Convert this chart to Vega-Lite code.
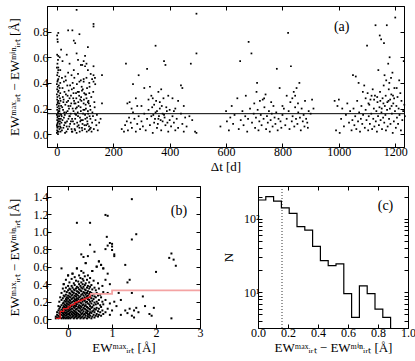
{
"$schema": "https://vega.github.io/schema/vega-lite/v6.json",
"padding": {"left": 7, "top": 5, "right": 2, "bottom": 2},
"datasets": {
"one": [{}],
"a": [
{"t":0,"d":0.01},{"t":1,"d":0.03},{"t":2,"d":0.05},{"t":0,"d":0.07},{"t":3,"d":0.09},{"t":1,"d":0.11},{"t":2,"d":0.13},{"t":0,"d":0.15},{"t":4,"d":0.17},{"t":1,"d":0.19},{"t":2,"d":0.21},{"t":0,"d":0.23},{"t":3,"d":0.25},{"t":1,"d":0.27},{"t":2,"d":0.29},{"t":0,"d":0.31},{"t":4,"d":0.33},{"t":1,"d":0.35},{"t":3,"d":0.37},{"t":0,"d":0.39},{"t":2,"d":0.41},{"t":5,"d":0.43},{"t":1,"d":0.46},{"t":3,"d":0.48},{"t":0,"d":0.52},{"t":2,"d":0.55},{"t":4,"d":0.58},{"t":1,"d":0.62},{"t":3,"d":0.72},{"t":2,"d":0.74},{"t":5,"d":0.79},{"t":1,"d":0.77},
{"t":6,"d":0.02},{"t":7,"d":0.06},{"t":5,"d":0.1},{"t":8,"d":0.14},{"t":6,"d":0.18},{"t":7,"d":0.22},{"t":5,"d":0.26},{"t":8,"d":0.3},{"t":6,"d":0.34},{"t":7,"d":0.38},{"t":9,"d":0.04},{"t":10,"d":0.08},{"t":9,"d":0.12},{"t":11,"d":0.16},{"t":10,"d":0.2},{"t":9,"d":0.24},{"t":11,"d":0.28},{"t":12,"d":0.32},{"t":10,"d":0.36},{"t":12,"d":0.4},{"t":4,"d":0.0},{"t":3,"d":0.02},{"t":6,"d":0.12},{"t":2,"d":0.08},{"t":8,"d":0.2},{"t":4,"d":0.24},{"t":5,"d":0.16},{"t":3,"d":0.14},{"t":7,"d":0.1},{"t":1,"d":0.06},{"t":9,"d":0.18},{"t":11,"d":0.1},{"t":12,"d":0.06},{"t":13,"d":0.02},{"t":14,"d":0.12},{"t":15,"d":0.22},{"t":13,"d":0.26},{"t":14,"d":0.05},{"t":15,"d":0.15},{"t":16,"d":0.09},
{"t":18,"d":0.03},{"t":20,"d":0.11},{"t":22,"d":0.19},{"t":24,"d":0.27},{"t":26,"d":0.07},{"t":28,"d":0.15},{"t":30,"d":0.23},{"t":32,"d":0.31},{"t":34,"d":0.02},{"t":36,"d":0.1},{"t":38,"d":0.18},{"t":40,"d":0.26},{"t":42,"d":0.34},{"t":44,"d":0.06},{"t":46,"d":0.14},{"t":48,"d":0.22},{"t":50,"d":0.3},{"t":52,"d":0.04},{"t":54,"d":0.12},{"t":56,"d":0.2},{"t":58,"d":0.28},{"t":60,"d":0.36},{"t":62,"d":0.08},{"t":64,"d":0.16},{"t":66,"d":0.24},{"t":68,"d":0.32},{"t":70,"d":0.01},{"t":72,"d":0.09},{"t":74,"d":0.17},{"t":76,"d":0.25},{"t":78,"d":0.33},{"t":80,"d":0.05},{"t":82,"d":0.13},{"t":84,"d":0.21},{"t":86,"d":0.29},{"t":88,"d":0.37},{"t":90,"d":0.03},{"t":92,"d":0.11},{"t":94,"d":0.19},{"t":96,"d":0.27},{"t":98,"d":0.07},{"t":100,"d":0.15},{"t":102,"d":0.23},{"t":104,"d":0.31},{"t":106,"d":0.02},{"t":108,"d":0.1},{"t":110,"d":0.18},{"t":112,"d":0.26},{"t":114,"d":0.06},{"t":116,"d":0.14},{"t":118,"d":0.22},{"t":120,"d":0.05},
{"t":19,"d":0.21},{"t":21,"d":0.29},{"t":23,"d":0.05},{"t":25,"d":0.13},{"t":27,"d":0.33},{"t":29,"d":0.01},{"t":31,"d":0.09},{"t":33,"d":0.17},{"t":35,"d":0.25},{"t":37,"d":0.38},{"t":39,"d":0.04},{"t":41,"d":0.12},{"t":43,"d":0.2},{"t":45,"d":0.28},{"t":47,"d":0.08},{"t":49,"d":0.16},{"t":51,"d":0.24},{"t":53,"d":0.35},{"t":55,"d":0.02},{"t":57,"d":0.1},{"t":59,"d":0.18},{"t":61,"d":0.26},{"t":63,"d":0.04},{"t":65,"d":0.12},{"t":67,"d":0.2},{"t":69,"d":0.28},{"t":71,"d":0.39},{"t":73,"d":0.06},{"t":75,"d":0.14},{"t":77,"d":0.22},{"t":79,"d":0.3},{"t":81,"d":0.02},{"t":83,"d":0.1},{"t":85,"d":0.18},{"t":87,"d":0.26},{"t":89,"d":0.34},{"t":91,"d":0.08},{"t":93,"d":0.16},{"t":95,"d":0.24},{"t":97,"d":0.32},{"t":99,"d":0.04},{"t":101,"d":0.12},{"t":103,"d":0.2},{"t":105,"d":0.28},{"t":107,"d":0.36},{"t":109,"d":0.08},{"t":111,"d":0.16},{"t":113,"d":0.24},{"t":115,"d":0.32},{"t":117,"d":0.04},{"t":119,"d":0.12},
{"t":17,"d":0.14},{"t":20,"d":0.36},{"t":23,"d":0.25},{"t":26,"d":0.17},{"t":29,"d":0.09},{"t":32,"d":0.42},{"t":35,"d":0.06},{"t":38,"d":0.3},{"t":41,"d":0.22},{"t":44,"d":0.14},{"t":47,"d":0.38},{"t":50,"d":0.1},{"t":53,"d":0.02},{"t":56,"d":0.4},{"t":59,"d":0.32},{"t":62,"d":0.24},{"t":65,"d":0.03},{"t":68,"d":0.15},{"t":71,"d":0.21},{"t":74,"d":0.33},{"t":77,"d":0.07},{"t":80,"d":0.41},{"t":83,"d":0.27},{"t":86,"d":0.11},{"t":89,"d":0.05},{"t":92,"d":0.35},{"t":95,"d":0.43},{"t":98,"d":0.19},{"t":101,"d":0.31},{"t":104,"d":0.07},{"t":107,"d":0.13},{"t":110,"d":0.25},{"t":113,"d":0.03},{"t":116,"d":0.37},{"t":119,"d":0.19},{"t":122,"d":0.29},{"t":125,"d":0.09},{"t":128,"d":0.14},{"t":131,"d":0.04},{"t":134,"d":0.21},{"t":137,"d":0.11},{"t":140,"d":0.07},{"t":123,"d":0.02},{"t":126,"d":0.17},{"t":129,"d":0.33},{"t":133,"d":0.25},{"t":136,"d":0.39},{"t":142,"d":0.15},{"t":145,"d":0.03},{"t":150,"d":0.09},{"t":155,"d":0.12},{"t":160,"d":0.24},
{"t":3,"d":0.42},{"t":8,"d":0.45},{"t":12,"d":0.5},{"t":18,"d":0.44},{"t":25,"d":0.41},{"t":30,"d":0.45},{"t":40,"d":0.48},{"t":52,"d":0.46},{"t":62,"d":0.44},{"t":75,"d":0.47},{"t":85,"d":0.42},{"t":95,"d":0.41},{"t":105,"d":0.44},{"t":115,"d":0.4},{"t":125,"d":0.43},{"t":130,"d":0.41},{"t":135,"d":0.44},{"t":130,"d":0.46},{"t":120,"d":0.47},{"t":160,"d":0.46},{"t":110,"d":0.5},{"t":100,"d":0.53},{"t":90,"d":0.54},{"t":85,"d":0.54},{"t":95,"d":0.57},{"t":60,"d":0.5},{"t":130,"d":0.53},{"t":5,"d":0.5},{"t":5,"d":0.52},{"t":5,"d":0.61},{"t":10,"d":0.6},{"t":20,"d":0.57},{"t":70,"d":0.63},{"t":110,"d":0.68},{"t":60,"d":0.73},{"t":65,"d":0.71},{"t":80,"d":0.78},{"t":40,"d":0.81},{"t":55,"d":0.81},{"t":70,"d":0.97},{"t":130,"d":0.86},{"t":130,"d":0.84},{"t":45,"d":0.55},{"t":75,"d":0.58},{"t":100,"d":0.61},{"t":15,"d":0.66},{"t":35,"d":0.62},{"t":105,"d":0.55},
{"t":230,"d":0.04},{"t":238,"d":0.02},{"t":242,"d":0.07},{"t":248,"d":0.1},{"t":252,"d":0.03},{"t":256,"d":0.13},{"t":262,"d":0.09},{"t":266,"d":0.05},{"t":270,"d":0.17},{"t":275,"d":0.12},{"t":280,"d":0.02},{"t":285,"d":0.08},{"t":290,"d":0.14},{"t":295,"d":0.04},{"t":300,"d":0.1},{"t":305,"d":0.06},{"t":310,"d":0.16},{"t":315,"d":0.03},{"t":320,"d":0.12},{"t":325,"d":0.19},{"t":330,"d":0.07},{"t":335,"d":0.14},{"t":340,"d":0.01},{"t":345,"d":0.09},{"t":350,"d":0.17},{"t":355,"d":0.05},{"t":360,"d":0.12},{"t":365,"d":0.2},{"t":370,"d":0.03},{"t":375,"d":0.1},{"t":380,"d":0.15},{"t":385,"d":0.07},{"t":390,"d":0.18},{"t":395,"d":0.02},{"t":400,"d":0.11},{"t":405,"d":0.06},{"t":410,"d":0.14},{"t":415,"d":0.09},{"t":420,"d":0.03},{"t":425,"d":0.12},{"t":430,"d":0.05},{"t":440,"d":0.16},{"t":445,"d":0.08},{"t":450,"d":0.02},{"t":455,"d":0.13},{"t":460,"d":0.06},{"t":470,"d":0.14},{"t":480,"d":0.11},{"t":490,"d":0.02},{"t":495,"d":0.01},
{"t":245,"d":0.55},{"t":250,"d":0.24},{"t":258,"d":0.25},{"t":265,"d":0.2},{"t":270,"d":0.39},{"t":280,"d":0.28},{"t":285,"d":0.22},{"t":290,"d":0.46},{"t":300,"d":0.22},{"t":310,"d":0.36},{"t":320,"d":0.51},{"t":325,"d":0.27},{"t":330,"d":0.37},{"t":335,"d":0.3},{"t":340,"d":0.28},{"t":345,"d":0.23},{"t":350,"d":0.69},{"t":352,"d":0.26},{"t":360,"d":0.33},{"t":365,"d":0.25},{"t":370,"d":0.35},{"t":372,"d":0.22},{"t":378,"d":0.28},{"t":380,"d":0.57},{"t":385,"d":0.54},{"t":388,"d":0.21},{"t":395,"d":0.3},{"t":400,"d":0.19},{"t":410,"d":0.28},{"t":415,"d":0.18},{"t":420,"d":0.2},{"t":430,"d":0.26},{"t":440,"d":0.38},{"t":445,"d":0.36},{"t":450,"d":0.22},{"t":475,"d":0.55},{"t":495,"d":0.94},{"t":495,"d":0.63},{"t":355,"d":0.18},{"t":362,"d":0.14},{"t":368,"d":0.11},{"t":375,"d":0.16},{"t":382,"d":0.13},{"t":392,"d":0.09},{"t":342,"d":0.15},{"t":338,"d":0.21},{"t":348,"d":0.12},{"t":358,"d":0.08},
{"t":580,"d":0.06},{"t":600,"d":0.18},{"t":603,"d":0.1},{"t":610,"d":0.03},{"t":615,"d":0.13},{"t":620,"d":0.22},{"t":625,"d":0.08},{"t":630,"d":0.15},{"t":640,"d":0.28},{"t":645,"d":0.04},{"t":650,"d":0.57},{"t":652,"d":0.11},{"t":658,"d":0.18},{"t":662,"d":0.07},{"t":668,"d":0.14},{"t":670,"d":0.3},{"t":675,"d":0.02},{"t":678,"d":0.12},{"t":680,"d":0.72},{"t":685,"d":0.2},{"t":690,"d":0.63},{"t":692,"d":0.09},{"t":698,"d":0.16},{"t":700,"d":0.24},{"t":703,"d":0.05},{"t":706,"d":0.13},{"t":710,"d":0.4},{"t":712,"d":0.19},{"t":715,"d":0.03},{"t":718,"d":0.1},{"t":720,"d":0.26},{"t":723,"d":0.15},{"t":726,"d":0.07},{"t":730,"d":0.27},{"t":733,"d":0.12},{"t":736,"d":0.21},{"t":740,"d":0.31},{"t":742,"d":0.04},{"t":745,"d":0.14},{"t":748,"d":0.09},{"t":752,"d":0.18},{"t":755,"d":0.02},{"t":758,"d":0.11},{"t":762,"d":0.16},{"t":765,"d":0.06},{"t":768,"d":0.22},{"t":772,"d":0.13},{"t":775,"d":0.08},{"t":778,"d":0.17},{"t":780,"d":0.51},{"t":783,"d":0.03},{"t":786,"d":0.12},{"t":790,"d":0.36},{"t":793,"d":0.1},{"t":796,"d":0.05},{"t":800,"d":0.15},{"t":805,"d":0.2},{"t":810,"d":0.07},{"t":815,"d":0.12},{"t":820,"d":0.79},{"t":822,"d":0.18},{"t":825,"d":0.04},{"t":828,"d":0.25},{"t":830,"d":0.53},{"t":833,"d":0.1},{"t":836,"d":0.14},{"t":840,"d":0.33},{"t":842,"d":0.06},{"t":845,"d":0.21},{"t":848,"d":0.12},{"t":850,"d":0.36},{"t":853,"d":0.08},{"t":856,"d":0.17},{"t":860,"d":0.4},{"t":862,"d":0.13},{"t":865,"d":0.03},{"t":868,"d":0.2},{"t":872,"d":0.1},{"t":875,"d":0.15},{"t":878,"d":0.06},{"t":880,"d":0.26},{"t":884,"d":0.12},{"t":888,"d":0.09},{"t":890,"d":0.05},{"t":893,"d":0.18},{"t":900,"d":0.16},{"t":905,"d":0.27},{"t":910,"d":0.2},{"t":835,"d":0.28},{"t":845,"d":0.3},{"t":855,"d":0.24},{"t":708,"d":0.33},{"t":735,"d":0.28},{"t":760,"d":0.25},{"t":800,"d":0.22},{"t":815,"d":0.3},
{"t":985,"d":0.26},{"t":990,"d":0.03},{"t":995,"d":0.22},{"t":1000,"d":0.27},{"t":1003,"d":0.01},{"t":1008,"d":0.12},{"t":1012,"d":0.2},{"t":1018,"d":0.06},{"t":1025,"d":0.15},{"t":1030,"d":0.24},{"t":1036,"d":0.09},{"t":1040,"d":0.18},{"t":1045,"d":0.03},{"t":1048,"d":0.11},{"t":1050,"d":0.46},{"t":1052,"d":0.2},{"t":1055,"d":0.07},{"t":1058,"d":0.14},{"t":1060,"d":0.45},{"t":1062,"d":0.04},{"t":1065,"d":0.26},{"t":1068,"d":0.1},{"t":1070,"d":0.4},{"t":1072,"d":0.17},{"t":1075,"d":0.02},{"t":1078,"d":0.12},{"t":1080,"d":0.22},{"t":1083,"d":0.08},{"t":1086,"d":0.15},{"t":1090,"d":0.38},{"t":1092,"d":0.05},{"t":1095,"d":0.19},{"t":1098,"d":0.11},{"t":1100,"d":0.69},{"t":1102,"d":0.32},{"t":1104,"d":0.03},{"t":1106,"d":0.14},{"t":1108,"d":0.23},{"t":1110,"d":0.08},{"t":1112,"d":0.27},{"t":1115,"d":0.16},{"t":1118,"d":0.04},{"t":1120,"d":0.35},{"t":1122,"d":0.12},{"t":1124,"d":0.2},{"t":1126,"d":0.06},{"t":1128,"d":0.3},{"t":1130,"d":0.85},{"t":1131,"d":0.1},{"t":1133,"d":0.18},{"t":1135,"d":0.02},{"t":1137,"d":0.25},{"t":1139,"d":0.14},{"t":1140,"d":0.5},{"t":1142,"d":0.07},{"t":1144,"d":0.21},{"t":1145,"d":0.77},{"t":1146,"d":0.33},{"t":1148,"d":0.11},{"t":1150,"d":0.74},{"t":1151,"d":0.17},{"t":1153,"d":0.04},{"t":1155,"d":0.28},{"t":1157,"d":0.13},{"t":1159,"d":0.38},{"t":1160,"d":0.71},{"t":1161,"d":0.09},{"t":1163,"d":0.22},{"t":1165,"d":0.15},{"t":1167,"d":0.03},{"t":1168,"d":0.42},{"t":1170,"d":0.85},{"t":1171,"d":0.19},{"t":1173,"d":0.06},{"t":1175,"d":0.55},{"t":1176,"d":0.26},{"t":1178,"d":0.12},{"t":1180,"d":0.6},{"t":1181,"d":0.2},{"t":1183,"d":0.08},{"t":1185,"d":0.44},{"t":1186,"d":0.31},{"t":1188,"d":0.16},{"t":1190,"d":0.48},{"t":1191,"d":0.01},{"t":1193,"d":0.24},{"t":1195,"d":0.1},{"t":1197,"d":0.36},{"t":1199,"d":0.18},{"t":1200,"d":0.91},{"t":1202,"d":0.05},{"t":1204,"d":0.22},{"t":1206,"d":0.13},{"t":1208,"d":0.29},{"t":1210,"d":0.08},{"t":1212,"d":0.2},{"t":1215,"d":0.15},{"t":1218,"d":0.32},{"t":1220,"d":0.03},{"t":1222,"d":0.26},{"t":1225,"d":0.11},{"t":1228,"d":0.18},{"t":1230,"d":0.57},{"t":1232,"d":0.23},{"t":1234,"d":0.14},{"t":1166,"d":0.3},{"t":1172,"d":0.25},{"t":1177,"d":0.35},{"t":1182,"d":0.27},{"t":1187,"d":0.22},{"t":1192,"d":0.3},{"t":1158,"d":0.24},{"t":1152,"d":0.2},{"t":1147,"d":0.26},{"t":1136,"d":0.29},{"t":1125,"d":0.27},{"t":1116,"d":0.3},{"t":1105,"d":0.24},{"t":1095,"d":0.28},{"t":1085,"d":0.33},{"t":1162,"d":0.46},{"t":1179,"d":0.4},{"t":1196,"d":0.28},{"t":1205,"d":0.36},{"t":1214,"d":0.42}
],
"b": [
{"x":-0.28,"y":0.01},{"x":-0.28,"y":0.03},{"x":-0.25,"y":0.02},{"x":-0.25,"y":0.05},{"x":-0.25,"y":0.08},{"x":-0.22,"y":0.01},{"x":-0.22,"y":0.04},{"x":-0.22,"y":0.1},{"x":-0.22,"y":0.15},{"x":-0.2,"y":0.03},{"x":-0.2,"y":0.07},{"x":-0.2,"y":0.12},{"x":-0.2,"y":0.2},{"x":-0.18,"y":0.02},{"x":-0.18,"y":0.06},{"x":-0.18,"y":0.09},{"x":-0.18,"y":0.14},{"x":-0.18,"y":0.25},
{"x":-0.15,"y":0.01},{"x":-0.15,"y":0.05},{"x":-0.15,"y":0.08},{"x":-0.15,"y":0.11},{"x":-0.15,"y":0.16},{"x":-0.15,"y":0.22},{"x":-0.15,"y":0.3},{"x":-0.12,"y":0.02},{"x":-0.12,"y":0.04},{"x":-0.12,"y":0.07},{"x":-0.12,"y":0.1},{"x":-0.12,"y":0.13},{"x":-0.12,"y":0.18},{"x":-0.12,"y":0.24},{"x":-0.12,"y":0.35},
{"x":-0.1,"y":0.01},{"x":-0.1,"y":0.03},{"x":-0.1,"y":0.06},{"x":-0.1,"y":0.09},{"x":-0.1,"y":0.12},{"x":-0.1,"y":0.15},{"x":-0.1,"y":0.19},{"x":-0.1,"y":0.27},{"x":-0.1,"y":0.4},{"x":-0.08,"y":0.02},{"x":-0.08,"y":0.05},{"x":-0.08,"y":0.08},{"x":-0.08,"y":0.11},{"x":-0.08,"y":0.14},{"x":-0.08,"y":0.17},{"x":-0.08,"y":0.21},{"x":-0.08,"y":0.26},{"x":-0.08,"y":0.32},
{"x":-0.05,"y":0.01},{"x":-0.05,"y":0.04},{"x":-0.05,"y":0.07},{"x":-0.05,"y":0.1},{"x":-0.05,"y":0.13},{"x":-0.05,"y":0.16},{"x":-0.05,"y":0.2},{"x":-0.05,"y":0.23},{"x":-0.05,"y":0.28},{"x":-0.05,"y":0.36},{"x":-0.05,"y":0.45},{"x":-0.03,"y":0.02},{"x":-0.03,"y":0.05},{"x":-0.03,"y":0.08},{"x":-0.03,"y":0.12},{"x":-0.03,"y":0.15},{"x":-0.03,"y":0.18},{"x":-0.03,"y":0.22},{"x":-0.03,"y":0.25},{"x":-0.03,"y":0.31},
{"x":0.0,"y":0.01},{"x":0.0,"y":0.03},{"x":0.0,"y":0.06},{"x":0.0,"y":0.09},{"x":0.0,"y":0.11},{"x":0.0,"y":0.14},{"x":0.0,"y":0.17},{"x":0.0,"y":0.2},{"x":0.0,"y":0.24},{"x":0.0,"y":0.27},{"x":0.0,"y":0.33},{"x":0.0,"y":0.38},{"x":0.0,"y":0.5},
{"x":0.03,"y":0.02},{"x":0.03,"y":0.05},{"x":0.03,"y":0.07},{"x":0.03,"y":0.1},{"x":0.03,"y":0.13},{"x":0.03,"y":0.16},{"x":0.03,"y":0.19},{"x":0.03,"y":0.22},{"x":0.03,"y":0.26},{"x":0.03,"y":0.3},{"x":0.03,"y":0.35},{"x":0.03,"y":0.42},
{"x":0.05,"y":0.01},{"x":0.05,"y":0.04},{"x":0.05,"y":0.08},{"x":0.05,"y":0.11},{"x":0.05,"y":0.14},{"x":0.05,"y":0.18},{"x":0.05,"y":0.21},{"x":0.05,"y":0.25},{"x":0.05,"y":0.29},{"x":0.05,"y":0.34},
{"x":0.08,"y":0.02},{"x":0.08,"y":0.06},{"x":0.08,"y":0.09},{"x":0.08,"y":0.12},{"x":0.08,"y":0.15},{"x":0.08,"y":0.19},{"x":0.08,"y":0.23},{"x":0.08,"y":0.27},{"x":0.08,"y":0.32},{"x":0.08,"y":0.38},{"x":0.08,"y":0.46},
{"x":0.1,"y":0.03},{"x":0.1,"y":0.05},{"x":0.1,"y":0.08},{"x":0.1,"y":0.12},{"x":0.1,"y":0.16},{"x":0.1,"y":0.2},{"x":0.1,"y":0.24},{"x":0.1,"y":0.28},{"x":0.1,"y":0.31},{"x":0.1,"y":0.36},{"x":0.1,"y":0.52},
{"x":0.13,"y":0.01},{"x":0.13,"y":0.04},{"x":0.13,"y":0.07},{"x":0.13,"y":0.1},{"x":0.13,"y":0.14},{"x":0.13,"y":0.17},{"x":0.13,"y":0.21},{"x":0.13,"y":0.25},{"x":0.13,"y":0.3},{"x":0.13,"y":0.34},{"x":0.13,"y":0.41},
{"x":0.15,"y":0.02},{"x":0.15,"y":0.06},{"x":0.15,"y":0.09},{"x":0.15,"y":0.13},{"x":0.15,"y":0.16},{"x":0.15,"y":0.2},{"x":0.15,"y":0.23},{"x":0.15,"y":0.27},{"x":0.15,"y":0.33},{"x":0.15,"y":0.39},{"x":0.15,"y":0.48},
{"x":0.18,"y":0.03},{"x":0.18,"y":0.05},{"x":0.18,"y":0.08},{"x":0.18,"y":0.11},{"x":0.18,"y":0.15},{"x":0.18,"y":0.18},{"x":0.18,"y":0.22},{"x":0.18,"y":0.26},{"x":0.18,"y":0.29},{"x":0.18,"y":0.35},{"x":0.18,"y":0.44},
{"x":0.2,"y":0.01},{"x":0.2,"y":0.04},{"x":0.2,"y":0.07},{"x":0.2,"y":0.12},{"x":0.2,"y":0.17},{"x":0.2,"y":0.21},{"x":0.2,"y":0.24},{"x":0.2,"y":0.28},{"x":0.2,"y":0.32},{"x":0.2,"y":0.37},{"x":0.2,"y":0.58},
{"x":0.23,"y":0.02},{"x":0.23,"y":0.06},{"x":0.23,"y":0.1},{"x":0.23,"y":0.14},{"x":0.23,"y":0.19},{"x":0.23,"y":0.23},{"x":0.23,"y":0.27},{"x":0.23,"y":0.31},{"x":0.23,"y":0.36},{"x":0.23,"y":0.43},
{"x":0.25,"y":0.03},{"x":0.25,"y":0.05},{"x":0.25,"y":0.09},{"x":0.25,"y":0.13},{"x":0.25,"y":0.16},{"x":0.25,"y":0.2},{"x":0.25,"y":0.25},{"x":0.25,"y":0.3},{"x":0.25,"y":0.34},{"x":0.25,"y":0.4},{"x":0.25,"y":0.5},
{"x":0.28,"y":0.01},{"x":0.28,"y":0.04},{"x":0.28,"y":0.08},{"x":0.28,"y":0.12},{"x":0.28,"y":0.15},{"x":0.28,"y":0.19},{"x":0.28,"y":0.22},{"x":0.28,"y":0.26},{"x":0.28,"y":0.33},{"x":0.28,"y":0.38},{"x":0.28,"y":0.47},
{"x":0.3,"y":0.02},{"x":0.3,"y":0.06},{"x":0.3,"y":0.1},{"x":0.3,"y":0.14},{"x":0.3,"y":0.18},{"x":0.3,"y":0.23},{"x":0.3,"y":0.28},{"x":0.3,"y":0.32},{"x":0.3,"y":0.36},{"x":0.3,"y":0.42},{"x":0.3,"y":0.55},
{"x":0.33,"y":0.03},{"x":0.33,"y":0.07},{"x":0.33,"y":0.11},{"x":0.33,"y":0.16},{"x":0.33,"y":0.2},{"x":0.33,"y":0.24},{"x":0.33,"y":0.29},{"x":0.33,"y":0.35},{"x":0.33,"y":0.4},{"x":0.33,"y":0.46},
{"x":0.35,"y":0.01},{"x":0.35,"y":0.05},{"x":0.35,"y":0.09},{"x":0.35,"y":0.13},{"x":0.35,"y":0.17},{"x":0.35,"y":0.22},{"x":0.35,"y":0.27},{"x":0.35,"y":0.31},{"x":0.35,"y":0.37},{"x":0.35,"y":0.44},{"x":0.35,"y":0.53},
{"x":0.38,"y":0.02},{"x":0.38,"y":0.06},{"x":0.38,"y":0.12},{"x":0.38,"y":0.15},{"x":0.38,"y":0.21},{"x":0.38,"y":0.25},{"x":0.38,"y":0.3},{"x":0.38,"y":0.34},{"x":0.38,"y":0.39},{"x":0.38,"y":0.49},
{"x":0.4,"y":0.04},{"x":0.4,"y":0.08},{"x":0.4,"y":0.11},{"x":0.4,"y":0.16},{"x":0.4,"y":0.19},{"x":0.4,"y":0.24},{"x":0.4,"y":0.28},{"x":0.4,"y":0.33},{"x":0.4,"y":0.41},{"x":0.4,"y":0.64},
{"x":0.43,"y":0.01},{"x":0.43,"y":0.07},{"x":0.43,"y":0.1},{"x":0.43,"y":0.14},{"x":0.43,"y":0.2},{"x":0.43,"y":0.26},{"x":0.43,"y":0.3},{"x":0.43,"y":0.36},{"x":0.43,"y":0.45},
{"x":0.45,"y":0.03},{"x":0.45,"y":0.05},{"x":0.45,"y":0.09},{"x":0.45,"y":0.13},{"x":0.45,"y":0.18},{"x":0.45,"y":0.23},{"x":0.45,"y":0.27},{"x":0.45,"y":0.32},{"x":0.45,"y":0.38},{"x":0.45,"y":0.5},
{"x":0.48,"y":0.02},{"x":0.48,"y":0.06},{"x":0.48,"y":0.12},{"x":0.48,"y":0.17},{"x":0.48,"y":0.22},{"x":0.48,"y":0.29},{"x":0.48,"y":0.35},{"x":0.48,"y":0.42},
{"x":0.5,"y":0.04},{"x":0.5,"y":0.08},{"x":0.5,"y":0.11},{"x":0.5,"y":0.15},{"x":0.5,"y":0.2},{"x":0.5,"y":0.25},{"x":0.5,"y":0.31},{"x":0.5,"y":0.37},{"x":0.5,"y":0.47},
{"x":0.53,"y":0.01},{"x":0.53,"y":0.07},{"x":0.53,"y":0.13},{"x":0.53,"y":0.18},{"x":0.53,"y":0.24},{"x":0.53,"y":0.3},{"x":0.53,"y":0.39},
{"x":0.55,"y":0.03},{"x":0.55,"y":0.09},{"x":0.55,"y":0.14},{"x":0.55,"y":0.21},{"x":0.55,"y":0.27},{"x":0.55,"y":0.34},{"x":0.55,"y":0.55},
{"x":0.58,"y":0.05},{"x":0.58,"y":0.1},{"x":0.58,"y":0.16},{"x":0.58,"y":0.23},{"x":0.58,"y":0.29},{"x":0.58,"y":0.44},
{"x":0.6,"y":0.02},{"x":0.6,"y":0.08},{"x":0.6,"y":0.12},{"x":0.6,"y":0.19},{"x":0.6,"y":0.26},{"x":0.6,"y":0.36},
{"x":0.63,"y":0.04},{"x":0.63,"y":0.11},{"x":0.63,"y":0.17},{"x":0.63,"y":0.25},{"x":0.63,"y":0.33},
{"x":0.65,"y":0.06},{"x":0.65,"y":0.13},{"x":0.65,"y":0.2},{"x":0.65,"y":0.3},{"x":0.65,"y":0.6},
{"x":0.68,"y":0.03},{"x":0.68,"y":0.09},{"x":0.68,"y":0.18},{"x":0.68,"y":0.27},{"x":0.68,"y":0.41},
{"x":0.7,"y":0.05},{"x":0.7,"y":0.12},{"x":0.7,"y":0.22},{"x":0.7,"y":0.35},{"x":0.7,"y":0.66},
{"x":0.73,"y":0.08},{"x":0.73,"y":0.16},{"x":0.73,"y":0.28},{"x":0.75,"y":0.04},{"x":0.75,"y":0.14},{"x":0.75,"y":0.25},{"x":0.75,"y":0.62},
{"x":0.78,"y":0.1},{"x":0.78,"y":0.2},{"x":0.78,"y":0.38},{"x":0.8,"y":0.06},{"x":0.8,"y":0.17},{"x":0.8,"y":0.31},{"x":0.8,"y":0.58},
{"x":0.85,"y":0.08},{"x":0.85,"y":0.22},{"x":0.85,"y":0.45},{"x":0.9,"y":0.12},{"x":0.9,"y":0.3},{"x":0.9,"y":0.52},{"x":0.95,"y":0.05},{"x":0.95,"y":0.18},{"x":0.95,"y":0.4},
{"x":1.45,"y":1.37},{"x":0.85,"y":1.19},{"x":0.9,"y":1.18},{"x":0.2,"y":1.1},{"x":0.5,"y":1.1},{"x":1.55,"y":0.97},{"x":1.45,"y":0.91},{"x":0.88,"y":0.94},{"x":0.95,"y":0.87},{"x":1.0,"y":0.86},{"x":1.0,"y":0.83},{"x":0.9,"y":0.84},{"x":0.85,"y":0.8},{"x":1.0,"y":0.79},{"x":1.05,"y":0.74},{"x":1.05,"y":0.72},{"x":1.3,"y":0.62},{"x":2.0,"y":0.54},{"x":2.3,"y":0.7},{"x":2.35,"y":0.75},{"x":2.4,"y":0.68},{"x":2.45,"y":0.61},{"x":2.35,"y":0.01},{"x":1.4,"y":0.45},{"x":1.35,"y":0.42},{"x":1.2,"y":0.22},{"x":1.3,"y":0.1},{"x":1.35,"y":0.07},{"x":1.4,"y":0.12},{"x":1.45,"y":0.04},{"x":1.5,"y":0.1},{"x":1.55,"y":0.13},{"x":1.5,"y":0.02},{"x":1.6,"y":0.08},{"x":1.7,"y":0.26},{"x":1.75,"y":0.15},{"x":1.85,"y":0.06},{"x":1.9,"y":0.04},{"x":1.95,"y":0.13},{"x":1.2,"y":0.05},{"x":1.1,"y":0.15},{"x":1.05,"y":0.2},{"x":1.0,"y":0.1},{"x":1.15,"y":0.3},{"x":1.45,"y":0.3},{"x":0.5,"y":0.85},{"x":0.3,"y":0.74},{"x":0.35,"y":0.71},{"x":0.45,"y":0.72},{"x":0.6,"y":0.77},{"x":0.7,"y":0.66},{"x":0.75,"y":0.62},{"x":0.8,"y":0.58},{"x":0.65,"y":0.6},{"x":0.55,"y":0.55},{"x":-0.15,"y":0.58},{"x":-0.1,"y":0.4},{"x":0.0,"y":0.5},{"x":0.1,"y":0.52},{"x":0.2,"y":0.58},{"x":0.4,"y":0.64}
],
"s1": [
{"x":-0.28,"y":0.01},{"x":-0.18,"y":0.09},{"x":-0.1,"y":0.12},{"x":0.0,"y":0.14},{"x":0.05,"y":0.16},{"x":0.1,"y":0.17},{"x":0.15,"y":0.19},{"x":0.2,"y":0.2},{"x":0.25,"y":0.21},{"x":0.3,"y":0.22},{"x":0.35,"y":0.23},{"x":0.4,"y":0.24},{"x":0.45,"y":0.25},{"x":0.5,"y":0.29}
],
"s2": [
{"x":0.5,"y":0.29},{"x":1.0,"y":0.33},{"x":3.0,"y":0.33}
],
"c": [
{"e":0,"n":180},{"e":0.052,"n":200},{"e":0.104,"n":174},{"e":0.156,"n":141},{"e":0.208,"n":118},{"e":0.26,"n":78},{"e":0.312,"n":70},{"e":0.364,"n":42},{"e":0.416,"n":27},{"e":0.468,"n":23},{"e":0.52,"n":24.3},{"e":0.572,"n":9.6},{"e":0.624,"n":4.56},{"e":0.676,"n":12.2},{"e":0.728,"n":9.6},{"e":0.78,"n":5.9},{"e":0.832,"n":4.56},{"e":0.884,"n":1}
]
},
"vconcat": [
{
"width": 357, "height": 141,
"layer": [
{"data": {"name": "a"}, "mark": {"type": "square", "size": 3, "color": "black", "opacity": 1},
 "encoding": {
  "x": {"field": "t", "type": "quantitative", "scale": {"domain": [-35, 1231], "nice": false, "zero": false},
        "axis": {"values": [0,200,400,600,800,1000,1200], "format": "d", "title": "Δt [d]"}},
  "y": {"field": "d", "type": "quantitative", "scale": {"domain": [-0.1, 1.0], "nice": false, "zero": false},
        "axis": {"values": [0,0.2,0.4,0.6,0.8], "format": ".1f", "title": "EWᵐᵃˣᵢᵣₜ − EWᵐⁱⁿᵢᵣₜ [Å]", "minExtent": 20, "maxExtent": 20, "titlePadding": 6}}
 }},
{"data": {"name": "one"}, "mark": {"type": "rule", "color": "black", "strokeWidth": 1},
 "encoding": {"y": {"datum": 0.16, "type": "quantitative", "scale": {"domain": [-0.1, 1.0], "nice": false, "zero": false},
   "axis": {"orient": "right", "values": [0,0.2,0.4,0.6,0.8], "labels": false, "title": null}}}},
{"data": {"name": "one"}, "mark": {"type": "text", "fontSize": 14, "font": "Liberation Serif", "color": "black"},
 "encoding": {"x": {"datum": 1010, "type": "quantitative", "scale": {"domain": [-35, 1231], "nice": false, "zero": false},
   "axis": {"orient": "top", "values": [0,200,400,600,800,1000,1200], "labels": false, "title": null}},
  "y": {"datum": 0.84, "type": "quantitative", "axis": null},
  "text": {"value": "(a)"}}}
],
"resolve": {"axis": {"x": "independent", "y": "independent"}}
},
{
"spacing": 16,
"hconcat": [
{
"width": 153, "height": 142,
"layer": [
{"data": {"name": "b"}, "mark": {"type": "square", "size": 4, "color": "black", "opacity": 1},
 "encoding": {
  "x": {"field": "x", "type": "quantitative", "scale": {"domain": [-0.48, 3], "nice": false, "zero": false},
        "axis": {"values": [0,1,2,3], "format": "d", "title": "EWᵐᵃˣᵢᵣₜ [Å]"}},
  "y": {"field": "y", "type": "quantitative", "scale": {"domain": [-0.1, 1.52], "nice": false, "zero": false},
        "axis": {"values": [0,0.2,0.4,0.6,0.8,1.0,1.2,1.4], "format": ".1f", "title": "EWᵐᵃˣᵢᵣₜ − EWᵐⁱⁿᵢᵣₜ [Å]", "minExtent": 20, "maxExtent": 20, "titlePadding": 6}}
 }},
{"data": {"name": "s1"}, "mark": {"type": "line", "interpolate": "step-after", "color": "#e31a1c", "strokeWidth": 1.3},
 "encoding": {"x": {"field": "x", "type": "quantitative", "scale": {"domain": [-0.48, 3], "nice": false, "zero": false}, "axis": null},
  "y": {"field": "y", "type": "quantitative", "scale": {"domain": [-0.1, 1.52], "nice": false, "zero": false}, "axis": null}}},
{"data": {"name": "s2"}, "mark": {"type": "line", "interpolate": "step-after", "color": "#f4a3a3", "strokeWidth": 1.8},
 "encoding": {"x": {"field": "x", "type": "quantitative", "scale": {"domain": [-0.48, 3], "nice": false, "zero": false}, "axis": null},
  "y": {"field": "y", "type": "quantitative", "scale": {"domain": [-0.1, 1.52], "nice": false, "zero": false},
   "axis": {"orient": "right", "values": [0,0.2,0.4,0.6,0.8,1.0,1.2,1.4], "labels": false, "title": null}}}},
{"data": {"name": "one"}, "mark": {"type": "text", "fontSize": 14, "font": "Liberation Serif", "color": "black"},
 "encoding": {"x": {"datum": 2.52, "type": "quantitative", "scale": {"domain": [-0.48, 3], "nice": false, "zero": false},
   "axis": {"orient": "top", "values": [0,1,2,3], "labels": false, "title": null}},
  "y": {"datum": 1.24, "type": "quantitative", "axis": null},
  "text": {"value": "(b)"}}}
],
"resolve": {"axis": {"x": "independent", "y": "independent"}}
},
{
"width": 150, "height": 142,
"layer": [
{"data": {"name": "c"}, "mark": {"type": "line", "interpolate": "step-after", "color": "black", "strokeWidth": 1.2, "clip": true},
 "encoding": {
  "x": {"field": "e", "type": "quantitative", "scale": {"domain": [0, 1], "nice": false, "zero": false},
        "axis": {"values": [0,0.2,0.4,0.6,0.8,1.0], "format": ".1f", "title": "EWᵐᵃˣᵢᵣₜ − EWᵐⁱⁿᵢᵣₜ [Å]"}},
  "y": {"field": "n", "type": "quantitative", "scale": {"type": "log", "domain": [3.26, 279], "nice": false},
        "axis": {"values": [4,5,6,7,8,9,10,20,30,40,50,60,70,80,90,100,200], "labelExpr": "datum.value == 10 ? '10¹' : datum.value == 100 ? '10²' : ''", "title": "N", "minExtent": 20, "maxExtent": 20, "titlePadding": 3}}
 }},
{"data": {"name": "one"}, "mark": {"type": "rule", "color": "black", "strokeWidth": 0.8, "strokeDash": [1, 2]},
 "encoding": {"x": {"datum": 0.16, "type": "quantitative", "scale": {"domain": [0, 1], "nice": false, "zero": false},
   "axis": {"orient": "top", "values": [0,0.2,0.4,0.6,0.8,1.0], "labels": false, "title": null}}}},
{"data": {"name": "one"}, "mark": {"type": "text", "fontSize": 14, "font": "Liberation Serif", "color": "black"},
 "encoding": {"x": {"datum": 0.85, "type": "quantitative", "axis": null},
  "y": {"datum": 149, "type": "quantitative", "scale": {"type": "log", "domain": [3.26, 279], "nice": false},
   "axis": {"orient": "right", "values": [4,5,6,7,8,9,10,20,30,40,50,60,70,80,90,100,200], "labels": false, "title": null}},
  "text": {"value": "(c)"}}}
],
"resolve": {"axis": {"x": "independent", "y": "independent"}}
}
]
}
],
"spacing": 11,
"config": {
 "font": "Liberation Serif",
 "view": {"stroke": "black", "strokeWidth": 1},
 "axis": {"domainColor": "black", "tickColor": "black", "labelColor": "black", "titleColor": "black",
  "labelFont": "Liberation Serif", "titleFont": "Liberation Serif", "labelFontSize": 12, "titleFontSize": 13,
  "titleFontWeight": "normal", "tickSize": -4, "labelPadding": 3, "grid": false, "labelFlush": false, "labelOverlap": false, "titlePadding": 3}
}
}
